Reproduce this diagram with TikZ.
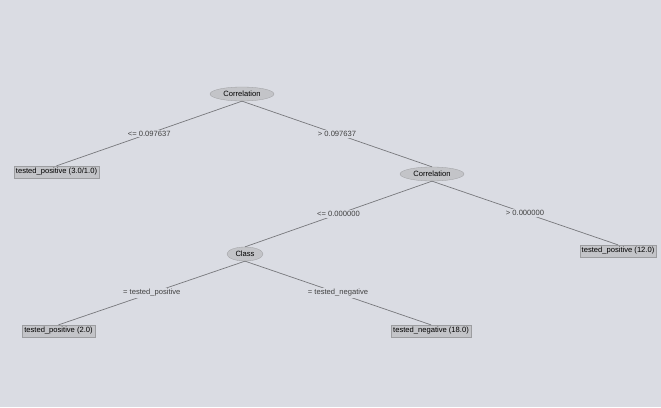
\documentclass[tikz,border=0pt]{standalone}
\usepackage{fontspec}
\setmainfont{Liberation Sans}
\usetikzlibrary{shapes.geometric}
\definecolor{bgc}{HTML}{DADCE3}
\definecolor{nodec}{HTML}{C3C4C8}
\definecolor{linec}{HTML}{77787C}
\begin{document}
\begin{tikzpicture}[x=1pt,y=-1pt,
  inner node/.style={ellipse, fill=nodec, draw=nodec!80!black, line width=0.3pt, minimum height=14pt, inner sep=1pt, font=\fontsize{7.6}{8}\selectfont},
  leaf/.style={rectangle, fill=nodec, draw=nodec!80!black, line width=0.3pt, minimum height=12pt, inner sep=2pt, font=\fontsize{7.6}{8}\selectfont},
  edge/.style={draw=linec, line width=0.7pt},
  lab/.style={fill=bgc, inner sep=1pt, font=\fontsize{7.6}{8}\selectfont, text=black!75}]
\useasboundingbox (0,0) rectangle (661,407);
\fill[bgc] (0,0) rectangle (661,407);
\node[inner node, minimum width=64pt] (r) at (242,94) {Correlation};
\node[leaf] (l1) at (56.5,172) {tested\_positive (3.0/1.0)};
\node[inner node, minimum width=64pt] (n2) at (432,174) {Correlation};
\node[leaf] (l2) at (618,251) {tested\_positive (12.0)};
\node[inner node, minimum width=36pt] (n3) at (245,254) {Class};
\node[leaf] (l3) at (58.5,331) {tested\_positive (2.0)};
\node[leaf] (l4) at (431,331) {tested\_negative (18.0)};
\draw[edge] (r.south) -- (l1.north) node[midway, lab] {<= 0.097637};
\draw[edge] (r.south) -- (n2.north) node[midway, lab] {> 0.097637};
\draw[edge] (n2.south) -- (n3.north) node[midway, lab] {<= 0.000000};
\draw[edge] (n2.south) -- (l2.north) node[midway, lab] {> 0.000000};
\draw[edge] (n3.south) -- (l3.north) node[midway, lab] {= tested\_positive};
\draw[edge] (n3.south) -- (l4.north) node[midway, lab] {= tested\_negative};
\end{tikzpicture}
\end{document}
